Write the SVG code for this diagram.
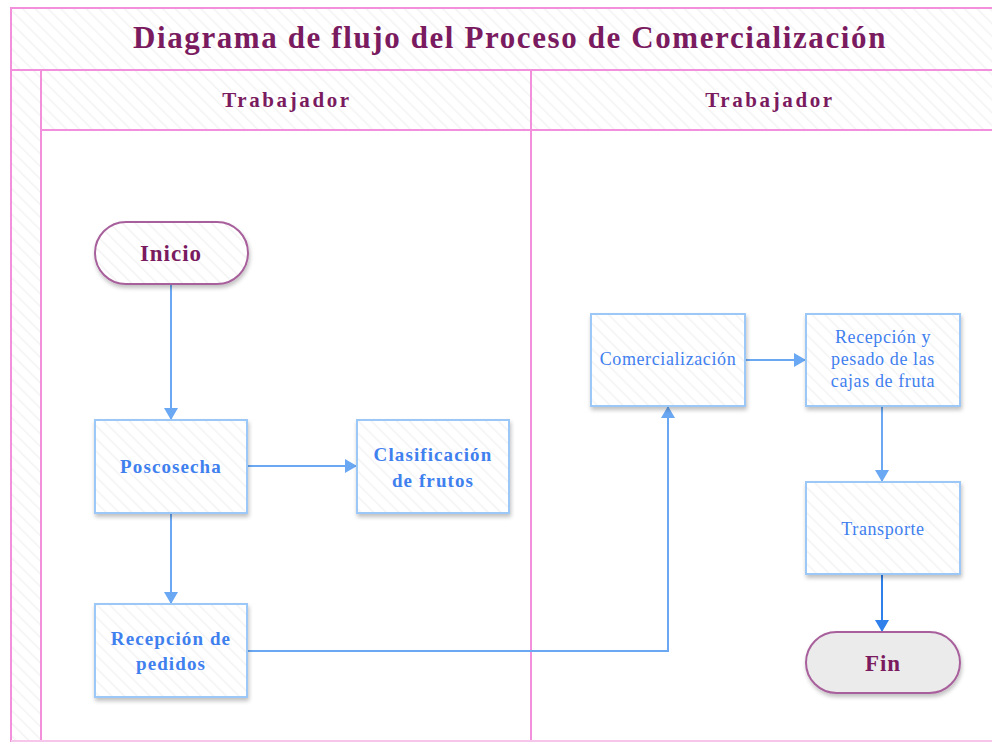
<svg xmlns="http://www.w3.org/2000/svg" width="992" height="742" viewBox="0 0 992 742">
<defs>
<pattern id="hatch" width="9" height="9" patternUnits="userSpaceOnUse" patternTransform="rotate(-45)">
<rect width="9" height="9" fill="#ffffff"/>
<line x1="0" y1="0" x2="0" y2="9" stroke="#f3f3f3" stroke-width="3"/>
</pattern>
<filter id="sh" x="-10%" y="-10%" width="130%" height="130%">
<feGaussianBlur in="SourceAlpha" stdDeviation="2"/>
<feOffset dx="1" dy="3"/>
<feComponentTransfer><feFuncA type="linear" slope="0.25"/></feComponentTransfer>
<feMerge><feMergeNode/><feMergeNode in="SourceGraphic"/></feMerge>
</filter>
<marker id="ar" markerWidth="12" markerHeight="14" refX="11" refY="7" orient="auto" markerUnits="userSpaceOnUse">
<path d="M0,0 L12,7 L0,14 Z" fill="#6aa8f3"/>
</marker>
<marker id="ar2" markerWidth="12" markerHeight="14" refX="11" refY="7" orient="auto" markerUnits="userSpaceOnUse">
<path d="M0,0 L12,7 L0,14 Z" fill="#2f80ea"/>
</marker>
</defs>
<style>
.frame{fill:url(#hatch);stroke:#f290dc;stroke-width:2}
.line{stroke:#f290dc;stroke-width:2;fill:none}
.title{font-family:"Liberation Serif",serif;font-weight:bold;fill:#7a1a5f;text-anchor:middle}
.box{fill:url(#hatch);stroke:#9cc8f8;stroke-width:2;filter:url(#sh)}
.term{fill:url(#hatch);stroke:#a8609c;stroke-width:2;filter:url(#sh)}
.bt{font-family:"Liberation Serif",serif;font-weight:bold;font-size:19px;letter-spacing:1.1px;fill:#3f80ef;text-anchor:middle}
.nt{font-family:"Liberation Serif",serif;font-size:18px;letter-spacing:0.6px;fill:#3f80ef;text-anchor:middle}
.tt{font-family:"Liberation Serif",serif;font-weight:bold;font-size:23px;letter-spacing:1px;fill:#7a1a5f;text-anchor:middle}
.conn{stroke:#6aa8f3;stroke-width:2;fill:none;marker-end:url(#ar)}
</style>
<rect x="0" y="0" width="992" height="742" fill="#ffffff"/>
<g id="pool">
<rect x="11" y="8" width="990" height="62" class="frame"/>
<rect x="11" y="70" width="30" height="680" class="frame"/>
<rect x="41" y="70" width="490" height="60" class="frame"/>
<rect x="531" y="70" width="470" height="60" class="frame"/>
<rect x="42" y="131" width="960" height="609" fill="#ffffff"/>
<line x1="41" y1="130" x2="41" y2="742" class="line"/>
<line x1="531" y1="130" x2="531" y2="742" class="line"/>
<line x1="11" y1="741" x2="992" y2="741" stroke="#f6c6ea" stroke-width="2"/>
<text x="510" y="48" class="title" font-size="31" letter-spacing="1.6">Diagrama de flujo del Proceso de Comercialización</text>
<text x="287" y="107" class="title" font-size="21" letter-spacing="2.6">Trabajador</text>
<text x="770" y="107" class="title" font-size="21" letter-spacing="2.6">Trabajador</text>
</g>
<g id="connectors">
<path d="M171,285 V419" class="conn"/>
<path d="M248,466 H356" class="conn"/>
<path d="M171,514 V603" class="conn"/>
<path d="M248,651 H668 V407" class="conn"/>
<path d="M746,360 H805" class="conn"/>
<path d="M882,407 V481" class="conn"/>
<path d="M882,575 V631" stroke="#2f80ea" stroke-width="2" fill="none" marker-end="url(#ar2)"/>
</g>
<g id="inicio">
<rect x="95" y="222" width="153" height="62" rx="31" class="term"/>
<text x="171" y="261" class="tt">Inicio</text>
</g>
<g id="poscosecha">
<rect x="95" y="420" width="152" height="93" class="box"/>
<text x="171" y="473" class="bt">Poscosecha</text>
</g>
<g id="clasificacion">
<rect x="357" y="420" width="152" height="93" class="box"/>
<text x="433" y="461" class="bt">Clasificación</text>
<text x="433" y="487" class="bt">de frutos</text>
</g>
<g id="recepcion-pedidos">
<rect x="95" y="604" width="152" height="93" class="box"/>
<text x="171" y="645" class="bt">Recepción de</text>
<text x="171" y="670" class="bt">pedidos</text>
</g>
<g id="comercializacion">
<rect x="591" y="314" width="154" height="92" class="box"/>
<text x="668" y="365" class="nt">Comercialización</text>
</g>
<g id="recepcion-pesado">
<rect x="806" y="314" width="154" height="92" class="box"/>
<text x="883" y="343" class="nt">Recepción y</text>
<text x="883" y="365" class="nt">pesado de las</text>
<text x="883" y="387" class="nt">cajas de fruta</text>
</g>
<g id="transporte">
<rect x="806" y="482" width="154" height="92" class="box"/>
<text x="883" y="535" class="nt">Transporte</text>
</g>
<g id="fin">
<rect x="806" y="632" width="154" height="61" rx="30.5" fill="#ebebeb" stroke="#a8609c" stroke-width="2" filter="url(#sh)"/>
<text x="883" y="671" class="tt" letter-spacing="1.5">Fin</text>
</g>
</svg>
